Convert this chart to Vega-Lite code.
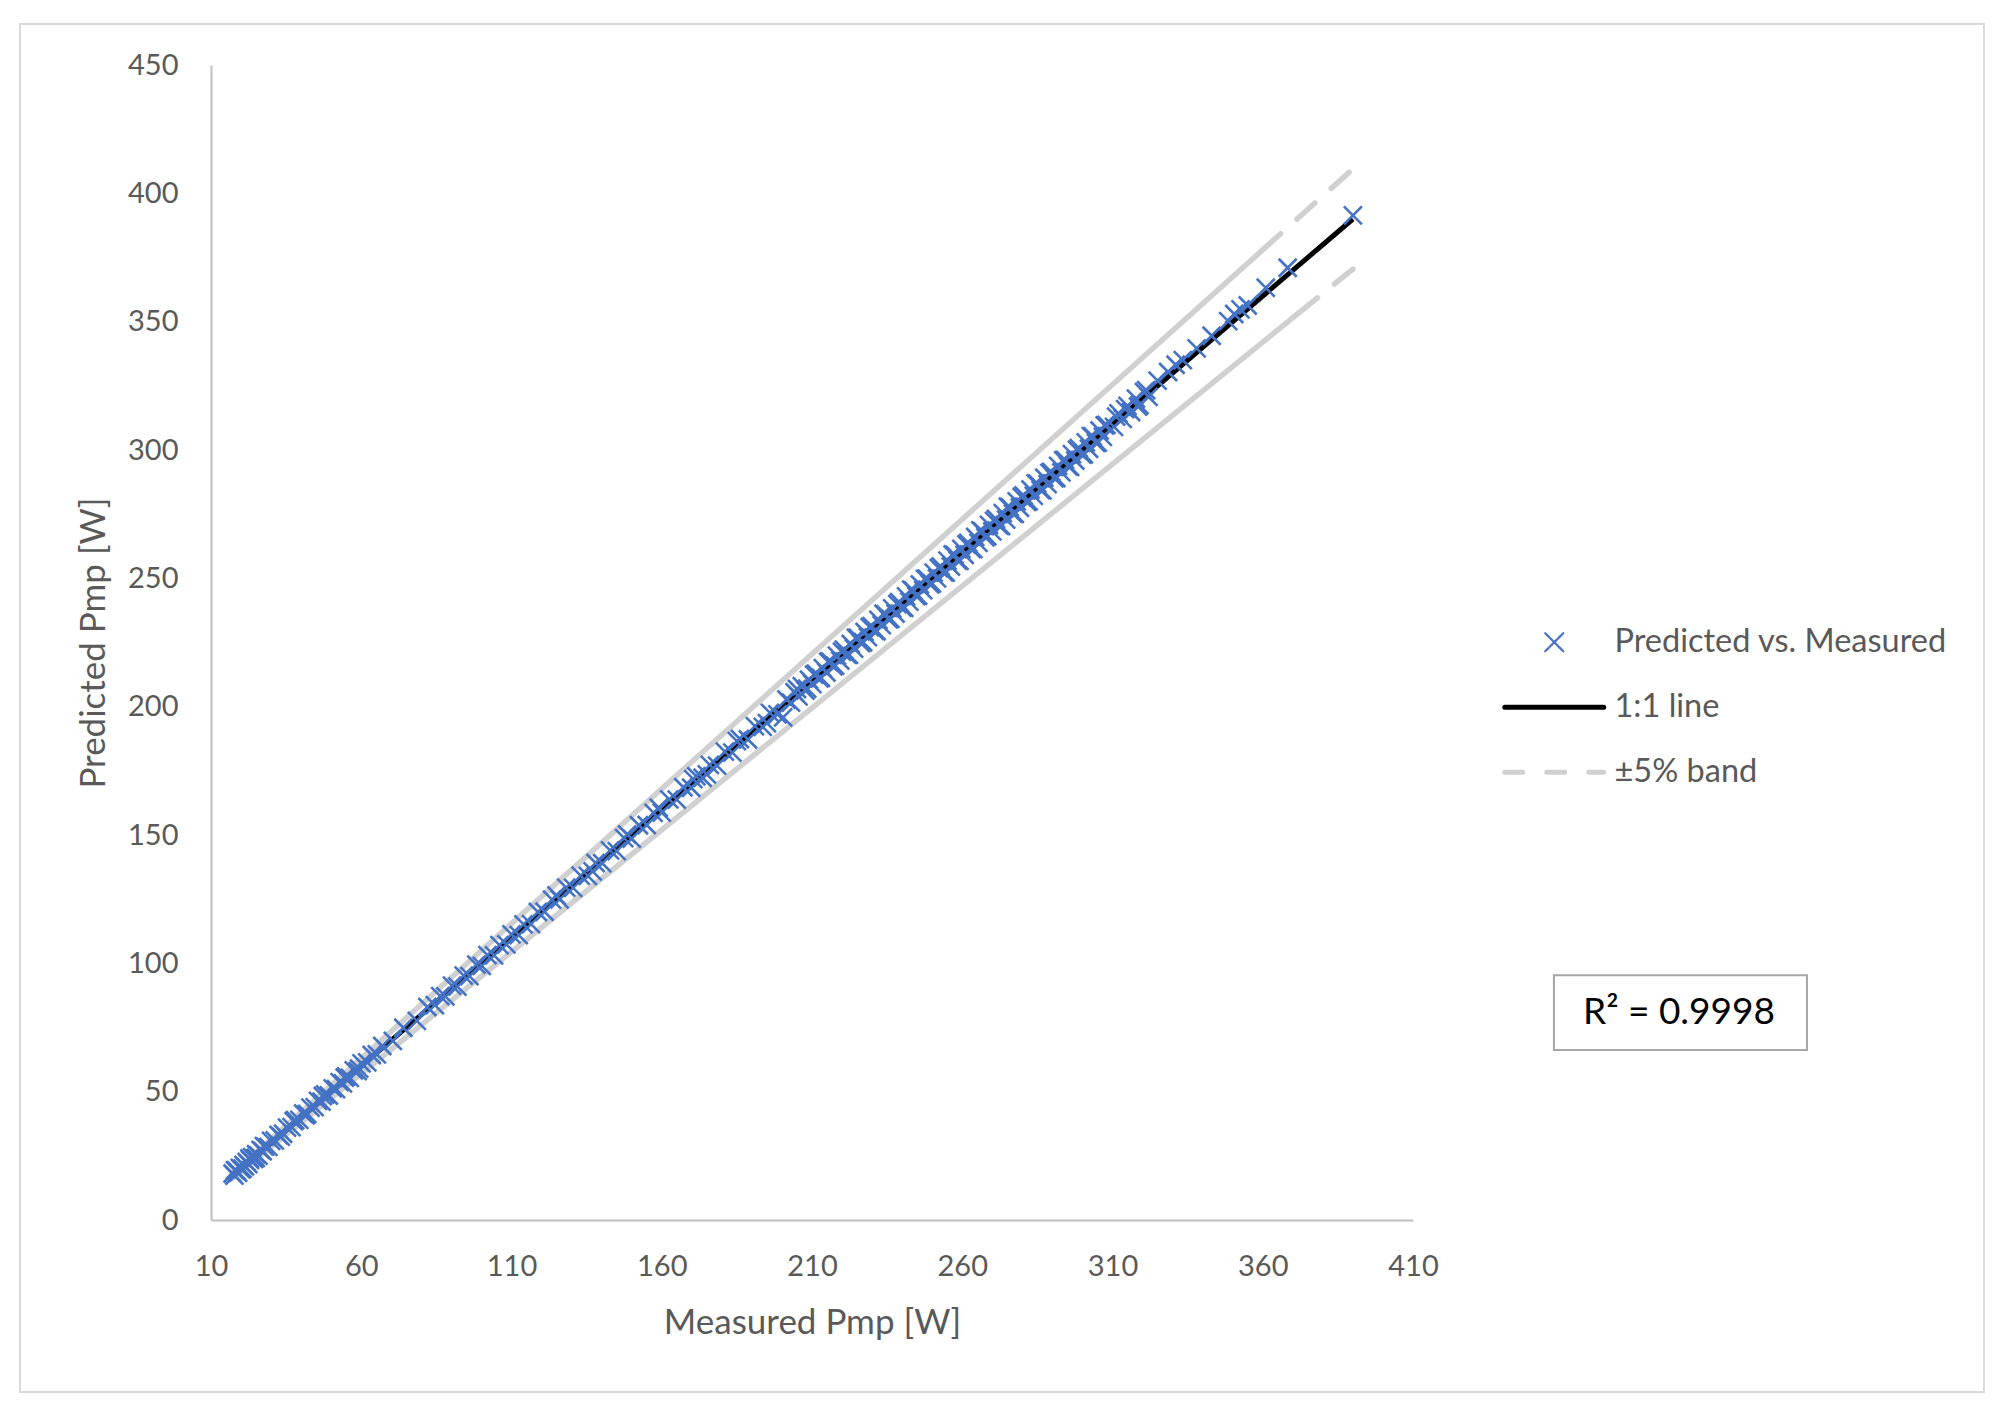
{
  "$schema": "https://vega.github.io/schema/vega-lite/v6.json",
  "width": 1964,
  "height": 1368,
  "autosize": "none",
  "padding": {"left": 20, "top": 24, "right": 21, "bottom": 20},
  "background": "white",
  "config": {
    "view": {"stroke": "#d9d9d9", "strokeWidth": 2},
    "axis": {
      "domainColor": "#bfbfbf", "domainWidth": 2, "ticks": false, "tickSize": 0, "grid": false,
      "labelFlush": false, "labelOverlap": false,
      "labelColor": "#595959", "labelFont": "Lato", "labelFontSize": 29,
      "titleColor": "#595959", "titleFont": "Lato", "titleFontSize": 35, "titleFontWeight": "normal"
    }
  },
  "datasets": {
    "pts": [
      {"m": 17.2, "p": 18.1}, {"m": 17.8, "p": 17.3}, {"m": 18.0, "p": 19.4}, {"m": 18.5, "p": 19.2}, {"m": 19.0, "p": 18.4},
      {"m": 19.6, "p": 20.3}, {"m": 20.1, "p": 19.7}, {"m": 20.5, "p": 20.0}, {"m": 20.8, "p": 21.5}, {"m": 21.3, "p": 20.9},
      {"m": 21.9, "p": 22.6}, {"m": 22.4, "p": 21.8}, {"m": 22.8, "p": 24.0}, {"m": 23.0, "p": 23.4}, {"m": 23.7, "p": 24.5},
      {"m": 24.3, "p": 23.8}, {"m": 24.9, "p": 24.2}, {"m": 25.0, "p": 25.6}, {"m": 25.8, "p": 25.1}, {"m": 26.5, "p": 27.3},
      {"m": 27.2, "p": 26.8}, {"m": 27.6, "p": 28.8}, {"m": 28.0, "p": 28.6}, {"m": 29.1, "p": 28.5}, {"m": 30.0, "p": 30.8},
      {"m": 31.2, "p": 31.0}, {"m": 32.5, "p": 33.1}, {"m": 33.2, "p": 32.5}, {"m": 34.0, "p": 33.6}, {"m": 35.3, "p": 36.0},
      {"m": 36.8, "p": 36.2}, {"m": 37.5, "p": 38.5}, {"m": 38.0, "p": 38.9}, {"m": 39.4, "p": 39.0}, {"m": 40.7, "p": 41.5},
      {"m": 41.5, "p": 40.8}, {"m": 42.0, "p": 41.3}, {"m": 43.1, "p": 43.8}, {"m": 44.5, "p": 44.0}, {"m": 45.6, "p": 46.4},
      {"m": 46.8, "p": 46.1}, {"m": 47.2, "p": 48.3}, {"m": 48.0, "p": 48.9}, {"m": 49.2, "p": 48.5}, {"m": 50.5, "p": 51.3},
      {"m": 51.6, "p": 51.0}, {"m": 52.8, "p": 53.7}, {"m": 53.9, "p": 53.2}, {"m": 54.5, "p": 55.5}, {"m": 55.0, "p": 55.9},
      {"m": 56.2, "p": 55.4}, {"m": 57.5, "p": 58.3}, {"m": 58.8, "p": 58.0}, {"m": 59.3, "p": 59.0}, {"m": 60.1, "p": 61.0},
      {"m": 62.0, "p": 61.4}, {"m": 63.5, "p": 64.3}, {"m": 65.2, "p": 64.5}, {"m": 67.0, "p": 67.8},
      {"m": 70.5, "p": 69.8}, {"m": 74.0, "p": 74.9}, {"m": 78.5, "p": 77.6}, {"m": 82.0, "p": 83.0},
      {"m": 84.5, "p": 83.7}, {"m": 86.3, "p": 87.2}, {"m": 88.0, "p": 87.1}, {"m": 90.2, "p": 91.3},
      {"m": 92.0, "p": 90.9}, {"m": 94.1, "p": 95.2}, {"m": 96.0, "p": 95.0}, {"m": 98.3, "p": 99.5},
      {"m": 100.1, "p": 99.0}, {"m": 102.0, "p": 103.2}, {"m": 104.2, "p": 103.1}, {"m": 106.0, "p": 107.1},
      {"m": 108.3, "p": 107.4}, {"m": 110.0, "p": 111.3}, {"m": 112.4, "p": 111.0}, {"m": 114.0, "p": 115.2},
      {"m": 116.5, "p": 115.3}, {"m": 118.8, "p": 120.0}, {"m": 121.0, "p": 120.1}, {"m": 123.5, "p": 124.8},
      {"m": 125.0, "p": 126.5}, {"m": 126.0, "p": 124.9}, {"m": 128.2, "p": 129.5}, {"m": 130.5, "p": 129.4},
      {"m": 133.0, "p": 134.2}, {"m": 135.4, "p": 134.1}, {"m": 137.0, "p": 135.8}, {"m": 138.0, "p": 139.1},
      {"m": 140.2, "p": 139.0}, {"m": 142.8, "p": 144.0}, {"m": 145.0, "p": 143.7}, {"m": 147.5, "p": 148.8},
      {"m": 148.5, "p": 150.2}, {"m": 150.0, "p": 148.6}, {"m": 152.4, "p": 153.8}, {"m": 155.0, "p": 153.9},
      {"m": 157.3, "p": 158.6}, {"m": 159.0, "p": 160.6}, {"m": 160.0, "p": 158.7}, {"m": 162.5, "p": 163.9},
      {"m": 165.0, "p": 163.8}, {"m": 167.2, "p": 168.6}, {"m": 169.8, "p": 168.4}, {"m": 170.5, "p": 171.8},
      {"m": 171.5, "p": 172.9}, {"m": 173.6, "p": 172.3}, {"m": 175.0, "p": 173.6}, {"m": 176.0, "p": 177.3},
      {"m": 178.4, "p": 177.0}, {"m": 181.0, "p": 182.5}, {"m": 183.5, "p": 182.1}, {"m": 185.0, "p": 186.6},
      {"m": 186.0, "p": 187.4}, {"m": 188.7, "p": 187.2}, {"m": 191.0, "p": 192.4}, {"m": 193.6, "p": 192.1},
      {"m": 195.0, "p": 193.6}, {"m": 196.0, "p": 197.6}, {"m": 198.5, "p": 197.0}, {"m": 200.4, "p": 195.8},
      {"m": 201.5, "p": 202.8}, {"m": 203.0, "p": 201.6}, {"m": 204.2, "p": 205.6}, {"m": 205.0, "p": 206.9},
      {"m": 205.5, "p": 204.0}, {"m": 206.6, "p": 208.0}, {"m": 207.8, "p": 206.3}, {"m": 208.4, "p": 207.0},
      {"m": 209.0, "p": 210.5}, {"m": 210.1, "p": 208.8}, {"m": 210.7, "p": 212.5}, {"m": 211.3, "p": 212.9},
      {"m": 212.5, "p": 211.0}, {"m": 213.0, "p": 211.2}, {"m": 213.6, "p": 215.0}, {"m": 214.8, "p": 213.3},
      {"m": 215.4, "p": 217.5}, {"m": 216.0, "p": 217.6}, {"m": 217.1, "p": 215.7}, {"m": 217.7, "p": 216.0},
      {"m": 218.3, "p": 219.9}, {"m": 219.4, "p": 218.0}, {"m": 220.0, "p": 221.4}, {"m": 220.6, "p": 222.2},
      {"m": 221.7, "p": 220.3}, {"m": 222.3, "p": 220.2}, {"m": 222.9, "p": 224.4}, {"m": 224.0, "p": 222.6},
      {"m": 224.6, "p": 226.8}, {"m": 225.2, "p": 226.9}, {"m": 226.3, "p": 224.8}, {"m": 227.0, "p": 225.1},
      {"m": 227.5, "p": 229.1}, {"m": 228.6, "p": 227.1}, {"m": 229.2, "p": 231.0}, {"m": 229.8, "p": 231.4},
      {"m": 230.9, "p": 229.5}, {"m": 231.5, "p": 229.4}, {"m": 232.1, "p": 233.8}, {"m": 233.2, "p": 231.8},
      {"m": 233.8, "p": 236.2}, {"m": 234.4, "p": 236.0}, {"m": 235.5, "p": 234.0}, {"m": 236.1, "p": 234.2},
      {"m": 236.7, "p": 238.3}, {"m": 237.8, "p": 236.3}, {"m": 238.4, "p": 240.0}, {"m": 239.0, "p": 240.7},
      {"m": 240.1, "p": 238.6}, {"m": 240.7, "p": 238.5}, {"m": 241.3, "p": 243.0}, {"m": 242.4, "p": 240.9},
      {"m": 243.0, "p": 245.6}, {"m": 243.6, "p": 245.3}, {"m": 244.7, "p": 243.1}, {"m": 245.3, "p": 243.2},
      {"m": 245.9, "p": 247.6}, {"m": 247.0, "p": 245.4}, {"m": 247.6, "p": 249.8}, {"m": 248.2, "p": 249.9},
      {"m": 249.3, "p": 247.7}, {"m": 249.9, "p": 248.0}, {"m": 250.5, "p": 252.2}, {"m": 251.6, "p": 250.0},
      {"m": 252.2, "p": 254.0}, {"m": 252.8, "p": 254.6}, {"m": 253.9, "p": 252.3}, {"m": 254.5, "p": 252.2},
      {"m": 255.1, "p": 256.9}, {"m": 256.2, "p": 254.6}, {"m": 256.8, "p": 259.3}, {"m": 257.4, "p": 259.2},
      {"m": 258.5, "p": 256.9}, {"m": 259.1, "p": 256.8}, {"m": 259.7, "p": 261.5}, {"m": 260.8, "p": 259.2},
      {"m": 261.4, "p": 263.2}, {"m": 262.0, "p": 263.8}, {"m": 263.1, "p": 261.5}, {"m": 263.7, "p": 261.4},
      {"m": 264.3, "p": 266.1}, {"m": 265.4, "p": 263.8}, {"m": 266.0, "p": 268.7}, {"m": 266.6, "p": 268.4},
      {"m": 267.7, "p": 266.0}, {"m": 268.3, "p": 266.4}, {"m": 268.9, "p": 270.8}, {"m": 270.0, "p": 268.3},
      {"m": 270.6, "p": 272.4}, {"m": 271.2, "p": 273.1}, {"m": 272.3, "p": 270.6}, {"m": 272.9, "p": 270.4},
      {"m": 273.5, "p": 275.4}, {"m": 274.6, "p": 272.9}, {"m": 275.2, "p": 277.9}, {"m": 275.8, "p": 277.7},
      {"m": 276.9, "p": 275.2}, {"m": 277.5, "p": 275.1}, {"m": 278.1, "p": 280.0}, {"m": 279.2, "p": 277.5},
      {"m": 279.8, "p": 281.7}, {"m": 280.4, "p": 282.3}, {"m": 281.5, "p": 279.8}, {"m": 282.1, "p": 280.0},
      {"m": 282.7, "p": 284.6}, {"m": 283.8, "p": 282.1}, {"m": 284.4, "p": 287.0}, {"m": 285.0, "p": 286.9},
      {"m": 286.1, "p": 284.4}, {"m": 286.7, "p": 284.3}, {"m": 287.3, "p": 289.2}, {"m": 288.4, "p": 286.7},
      {"m": 289.0, "p": 291.1}, {"m": 289.6, "p": 291.5}, {"m": 290.7, "p": 289.0}, {"m": 291.3, "p": 289.1},
      {"m": 291.9, "p": 293.8}, {"m": 293.0, "p": 291.3}, {"m": 293.6, "p": 296.0}, {"m": 294.2, "p": 296.1},
      {"m": 295.3, "p": 293.6}, {"m": 295.9, "p": 293.4}, {"m": 296.5, "p": 298.4}, {"m": 297.6, "p": 295.9},
      {"m": 298.2, "p": 300.1}, {"m": 298.8, "p": 300.7}, {"m": 299.9, "p": 298.2}, {"m": 300.5, "p": 298.3},
      {"m": 301.1, "p": 303.0}, {"m": 302.2, "p": 300.5}, {"m": 302.8, "p": 305.4}, {"m": 303.4, "p": 305.3},
      {"m": 304.5, "p": 302.8}, {"m": 305.1, "p": 302.9}, {"m": 305.7, "p": 307.6}, {"m": 306.8, "p": 305.1},
      {"m": 307.4, "p": 309.6}, {"m": 308.0, "p": 309.8}, {"m": 310.5, "p": 309.0}, {"m": 311.2, "p": 313.0},
      {"m": 312.0, "p": 314.3}, {"m": 313.4, "p": 312.1}, {"m": 314.2, "p": 315.9}, {"m": 315.0, "p": 317.2},
      {"m": 316.2, "p": 314.8}, {"m": 317.8, "p": 320.0}, {"m": 318.5, "p": 316.9}, {"m": 319.0, "p": 317.5},
      {"m": 320.5, "p": 322.6}, {"m": 321.2, "p": 323.3}, {"m": 322.0, "p": 320.7}, {"m": 325.0, "p": 327.0},
      {"m": 328.5, "p": 330.4}, {"m": 331.0, "p": 333.2}, {"m": 333.4, "p": 335.0}, {"m": 338.0, "p": 339.6},
      {"m": 343.0, "p": 344.5}, {"m": 348.5, "p": 350.2}, {"m": 350.5, "p": 353.0}, {"m": 352.6, "p": 354.8},
      {"m": 355.0, "p": 356.3}, {"m": 361.0, "p": 363.2}, {"m": 368.3, "p": 371.0}, {"m": 390.0, "p": 391.4}
    ],
    "one": [{"m": 17, "p": 17}, {"m": 390, "p": 390}],
    "band": [
      {"m": 17, "lo": 16.15, "hi": 17.85},
      {"m": 360, "lo": 342.0, "hi": 378.0},
      {"m": 372, "lo": 353.4, "hi": 390.6},
      {"m": 390, "lo": 370.5, "hi": 409.5}
    ]
  },
  "layer": [
    {
      "data": {"name": "band"},
      "transform": [{"filter": "datum.m <= 360"}],
      "mark": {"type": "line", "strokeWidth": 5.5, "strokeCap": "round"},
      "encoding": {
        "x": {"field": "m", "type": "quantitative", "title": "Measured Pmp [W]",
          "scale": {"domain": [10, 410], "range": [191, 1393], "nice": false, "zero": false},
          "axis": {"values": [10, 60, 110, 160, 210, 260, 310, 360, 410], "offset": -172, "labelPadding": 32, "titlePadding": 24}},
        "y": {"field": "hi", "type": "quantitative", "title": "Predicted Pmp [W]",
          "scale": {"domain": [0, 450], "range": [1196, 41], "nice": false, "zero": false},
          "axis": {"values": [0, 50, 100, 150, 200, 250, 300, 350, 400, 450], "offset": -191, "labelPadding": 33, "titlePadding": 16}},
        "color": {"datum": "±5% band", "type": "nominal",
          "scale": {"domain": ["Predicted vs. Measured", "1:1 line", "±5% band"], "range": ["#4472C4", "#000000", "#d0d0d0"]},
          "legend": {
            "title": null, "orient": "none", "legendX": 1518, "legendY": 602,
            "padding": 0, "symbolOffset": 0, "symbolSize": 324, "labelOffset": 44,
            "labelFont": "Lato", "labelFontSize": 32.5, "labelColor": "#595959", "labelLimit": 600,
            "rowPadding": 32,
            "encode": {
              "symbols": {
                "update": {
                  "shape": {"signal": "datum.value === 'Predicted vs. Measured' ? 'M-1,-1L1,1M-1,1L1,-1' : 'M-5.5,0L5.5,0'"},
                  "stroke": {"signal": "datum.value === 'Predicted vs. Measured' ? '#4472C4' : datum.value === '1:1 line' ? '#000000' : '#d0d0d0'"},
                  "fill": {"value": "transparent"},
                  "strokeWidth": {"signal": "datum.value === 'Predicted vs. Measured' ? 2.2 : 5"},
                  "strokeDash": {"signal": "datum.value === '±5% band' ? [18, 24] : [1, 0]"},
                  "strokeCap": {"value": "round"},
                  "opacity": {"value": 1}
                }
              }
            }
          }}
      }
    },
    {
      "data": {"name": "band"},
      "transform": [{"filter": "datum.m >= 360"}],
      "mark": {"type": "line", "strokeWidth": 5.5, "strokeCap": "round", "strokeDash": [24, 22]},
      "encoding": {
        "x": {"field": "m", "type": "quantitative"},
        "y": {"field": "hi", "type": "quantitative"},
        "color": {"datum": "±5% band", "type": "nominal"}
      }
    },
    {
      "data": {"name": "band"},
      "transform": [{"filter": "datum.m <= 372"}],
      "mark": {"type": "line", "strokeWidth": 5.5, "strokeCap": "round"},
      "encoding": {
        "x": {"field": "m", "type": "quantitative"},
        "y": {"field": "lo", "type": "quantitative"},
        "color": {"datum": "±5% band", "type": "nominal"}
      }
    },
    {
      "data": {"name": "band"},
      "transform": [{"filter": "datum.m >= 372"}],
      "mark": {"type": "line", "strokeWidth": 5.5, "strokeCap": "round", "strokeDash": [24, 22]},
      "encoding": {
        "x": {"field": "m", "type": "quantitative"},
        "y": {"field": "lo", "type": "quantitative"},
        "color": {"datum": "±5% band", "type": "nominal"}
      }
    },
    {
      "data": {"name": "one"},
      "mark": {"type": "line", "strokeWidth": 5},
      "encoding": {
        "x": {"field": "m", "type": "quantitative"},
        "y": {"field": "p", "type": "quantitative"},
        "color": {"datum": "1:1 line", "type": "nominal"}
      }
    },
    {
      "data": {"name": "pts"},
      "mark": {"type": "point", "shape": "M-1,-1L1,1M-1,1L1,-1", "filled": false, "size": 324, "strokeWidth": 2.6, "opacity": 1},
      "encoding": {
        "x": {"field": "m", "type": "quantitative"},
        "y": {"field": "p", "type": "quantitative"},
        "color": {"datum": "Predicted vs. Measured", "type": "nominal"}
      }
    },
    {
      "data": {"values": [{}]},
      "mark": {"type": "rect", "fill": "white", "stroke": "#a6a6a6", "strokeWidth": 2},
      "encoding": {
        "x": {"datum": 456.9}, "x2": {"datum": 541.1},
        "y": {"datum": 95.4}, "y2": {"datum": 66.2}
      }
    },
    {
      "data": {"values": [{"label": "R² = 0.9998"}]},
      "mark": {"type": "text", "font": "Lato", "fontSize": 37, "color": "#000000", "align": "center", "baseline": "middle"},
      "encoding": {
        "x": {"datum": 498.5},
        "y": {"datum": 80.6},
        "text": {"field": "label"}
      }
    }
  ]
}
